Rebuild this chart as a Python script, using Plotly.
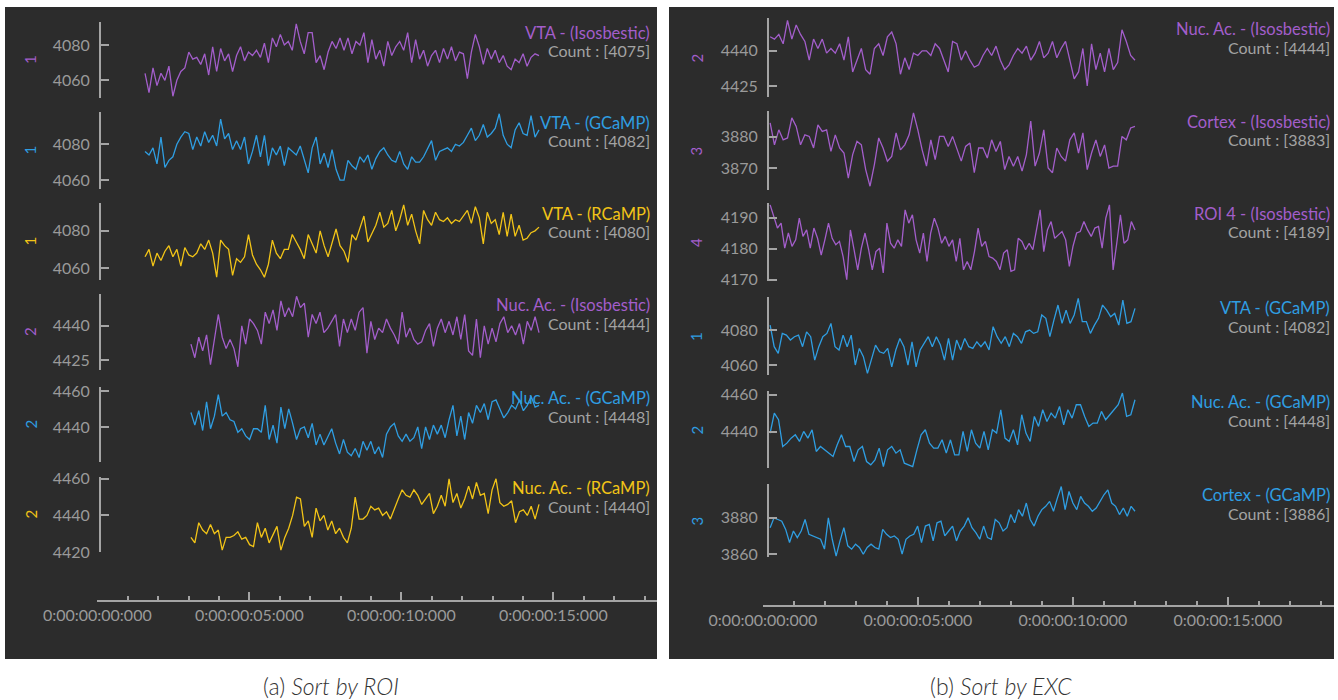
import numpy as np
import plotly.graph_objects as go

W, H = 1338, 700

# ---------------------------------------------------------------- data
# Fluorescence traces (raw counts), one list per channel, uniformly sampled
# between the first and last timestamp given in seconds.

# Sort by ROI
a_vta_iso = [4064, 4053, 4067, 4057, 4064, 4060, 4068, 4051, 4060, 4065,
             4067, 4076, 4072, 4073, 4069, 4075, 4063, 4079, 4065, 4078,
             4071, 4075, 4065, 4074, 4079, 4071, 4076, 4074, 4077, 4073,
             4081, 4070, 4084, 4079, 4086, 4080, 4082, 4077, 4092, 4082,
             4075, 4087, 4087, 4070, 4074, 4066, 4076, 4082, 4078, 4084,
             4077, 4084, 4075, 4082, 4080, 4087, 4070, 4083, 4072, 4077,
             4068, 4082, 4074, 4079, 4082, 4077, 4087, 4070, 4083, 4072,
             4077, 4068, 4074, 4077, 4070, 4078, 4072, 4079, 4071, 4076,
             4075, 4061, 4076, 4086, 4079, 4069, 4078, 4072, 4077, 4070,
             4074, 4068, 4066, 4072, 4070, 4075, 4068, 4073, 4075, 4074]
a_vta_gcamp = [4076, 4074, 4078, 4069, 4084, 4067, 4071, 4073, 4080, 4084,
               4087, 4086, 4077, 4084, 4079, 4087, 4081, 4085, 4079, 4094,
               4083, 4086, 4077, 4082, 4077, 4084, 4069, 4076, 4085, 4073,
               4085, 4068, 4078, 4074, 4079, 4068, 4078, 4076, 4074, 4079,
               4072, 4064, 4078, 4084, 4069, 4075, 4067, 4077, 4066, 4060,
               4060, 4071, 4068, 4066, 4073, 4070, 4074, 4066, 4072, 4076,
               4078, 4074, 4071, 4070, 4076, 4069, 4066, 4073, 4070, 4070,
               4073, 4078, 4082, 4071, 4076, 4077, 4078, 4076, 4080, 4079,
               4081, 4085, 4089, 4082, 4085, 4091, 4084, 4086, 4089, 4097,
               4085, 4080, 4078, 4088, 4092, 4086, 4085, 4096, 4084, 4088]
a_vta_rcamp = [4066, 4070, 4061, 4068, 4064, 4069, 4072, 4066, 4070, 4061,
               4071, 4067, 4066, 4068, 4073, 4070, 4075, 4068, 4055, 4075,
               4072, 4070, 4056, 4065, 4063, 4066, 4078, 4067, 4062, 4059,
               4055, 4062, 4075, 4068, 4065, 4070, 4070, 4078, 4074, 4070,
               4065, 4078, 4073, 4068, 4080, 4072, 4066, 4074, 4081, 4072,
               4069, 4063, 4078, 4075, 4081, 4088, 4074, 4079, 4083, 4090,
               4082, 4084, 4091, 4080, 4086, 4094, 4083, 4089, 4080, 4073,
               4091, 4086, 4083, 4090, 4086, 4085, 4087, 4084, 4086, 4085,
               4088, 4091, 4084, 4093, 4087, 4073, 4090, 4084, 4086, 4078,
               4090, 4077, 4089, 4077, 4083, 4075, 4076, 4079, 4080, 4082]
a_nuc_iso = [4432, 4426, 4435, 4429, 4436, 4423, 4434, 4445, 4435, 4430,
             4434, 4430, 4422, 4440, 4432, 4443, 4441, 4438, 4432, 4446,
             4441, 4447, 4438, 4451, 4444, 4448, 4444, 4453, 4448, 4450,
             4435, 4445, 4441, 4446, 4437, 4439, 4442, 4445, 4431, 4443,
             4437, 4443, 4438, 4446, 4448, 4428, 4442, 4434, 4439, 4437,
             4443, 4439, 4436, 4432, 4446, 4435, 4439, 4434, 4432, 4433,
             4438, 4441, 4431, 4439, 4443, 4437, 4442, 4436, 4444, 4434,
             4445, 4429, 4427, 4443, 4426, 4440, 4432, 4439, 4433, 4441,
             4444, 4437, 4440, 4436, 4441, 4432, 4442, 4438, 4444, 4437]
a_nuc_gcamp = [4448, 4441, 4449, 4438, 4454, 4439, 4446, 4458, 4446, 4448,
               4444, 4443, 4437, 4439, 4435, 4433, 4439, 4439, 4437, 4452,
               4433, 4441, 4431, 4451, 4439, 4450, 4442, 4433, 4439, 4440,
               4434, 4442, 4430, 4436, 4430, 4435, 4439, 4431, 4425, 4433,
               4426, 4424, 4428, 4423, 4432, 4427, 4432, 4425, 4429, 4423,
               4436, 4440, 4442, 4435, 4432, 4436, 4432, 4434, 4440, 4428,
               4440, 4433, 4441, 4436, 4441, 4434, 4444, 4452, 4435, 4446,
               4433, 4448, 4442, 4452, 4448, 4453, 4444, 4454, 4455, 4450,
               4445, 4448, 4452, 4450, 4455, 4449, 4452, 4457, 4451, 4452]
a_nuc_rcamp = [4428, 4425, 4436, 4432, 4430, 4435, 4430, 4432, 4421, 4428,
               4428, 4429, 4431, 4427, 4428, 4424, 4423, 4436, 4428, 4433,
               4425, 4430, 4434, 4421, 4428, 4433, 4440, 4450, 4449, 4434,
               4437, 4428, 4444, 4437, 4440, 4432, 4437, 4430, 4433, 4428,
               4425, 4433, 4450, 4438, 4438, 4440, 4445, 4443, 4444, 4440,
               4442, 4438, 4444, 4449, 4454, 4451, 4450, 4454, 4451, 4446,
               4449, 4452, 4441, 4445, 4451, 4445, 4460, 4447, 4452, 4444,
               4449, 4456, 4449, 4458, 4451, 4452, 4441, 4454, 4460, 4447,
               4445, 4446, 4448, 4436, 4442, 4443, 4440, 4445, 4438, 4446]

# Sort by EXC
b_nuc_iso = [4446, 4445, 4447, 4443, 4453, 4445, 4451, 4447, 4444, 4436,
             4445, 4441, 4445, 4439, 4441, 4439, 4443, 4436, 4446, 4431,
             4436, 4441, 4432, 4430, 4441, 4443, 4438, 4446, 4448, 4443,
             4430, 4437, 4432, 4439, 4438, 4440, 4440, 4438, 4443, 4441,
             4436, 4431, 4444, 4443, 4436, 4440, 4436, 4433, 4434, 4438,
             4441, 4438, 4442, 4436, 4432, 4434, 4438, 4441, 4439, 4442,
             4436, 4439, 4444, 4437, 4439, 4444, 4437, 4441, 4444, 4436,
             4428, 4431, 4441, 4425, 4443, 4432, 4439, 4431, 4441, 4432,
             4435, 4449, 4444, 4438, 4436]
b_ctx_iso = [3884.4, 3877.4, 3882.2, 3879.0, 3879.6, 3886.0, 3883.3, 3877.4,
             3880.6, 3880.1, 3876.4, 3883.8, 3881.7, 3882.2, 3875.3, 3880.6,
             3876.4, 3874.8, 3866.8, 3874.3, 3878.5, 3877.4, 3869.5, 3864.2,
             3871.1, 3879.6, 3876.4, 3872.2, 3873.7, 3881.2, 3875.8, 3877.4,
             3880.6, 3887.6, 3882.2, 3875.8, 3870.6, 3879.0, 3872.7, 3880.1,
             3880.1, 3876.9, 3880.1, 3875.8, 3872.2, 3876.9, 3878.0, 3868.5,
             3876.4, 3876.4, 3873.2, 3879.0, 3875.3, 3878.5, 3869.5, 3873.7,
             3870.6, 3873.7, 3869.0, 3874.3, 3885.0, 3870.6, 3874.8, 3882.2,
             3870.0, 3868.5, 3876.4, 3873.7, 3872.2, 3879.0, 3881.2, 3874.8,
             3881.2, 3869.5, 3874.8, 3879.0, 3873.7, 3877.4, 3870.0, 3870.6,
             3870.6, 3880.1, 3879.0, 3882.8, 3883.3]
b_roi4_iso = [4194.2, 4190.4, 4186.7, 4188.3, 4180.2, 4185.1, 4180.8, 4182.9,
              4189.9, 4184.0, 4186.1, 4180.2, 4186.7, 4183.4, 4178.0, 4182.9,
              4188.3, 4183.4, 4181.3, 4182.4, 4177.5, 4170.0, 4186.1, 4179.7,
              4173.2, 4180.2, 4185.1, 4179.7, 4173.2, 4179.1, 4180.2, 4172.2,
              4188.3, 4181.8, 4180.2, 4182.9, 4180.8, 4192.6, 4188.3, 4191.0,
              4182.9, 4178.6, 4185.1, 4175.9, 4185.1, 4189.9, 4186.7, 4181.8,
              4184.0, 4180.8, 4182.9, 4175.9, 4183.4, 4173.2, 4175.9, 4173.2,
              4179.1, 4186.7, 4180.8, 4182.4, 4177.5, 4177.0, 4175.9, 4173.2,
              4178.6, 4179.7, 4172.7, 4173.2, 4183.4, 4182.4, 4179.7, 4181.8,
              4179.7, 4186.1, 4192.6, 4179.1, 4186.1, 4188.8, 4183.4, 4184.5,
              4185.6, 4182.9, 4174.3, 4180.8, 4185.1, 4185.6, 4188.8, 4186.1,
              4184.0, 4186.7, 4187.2, 4180.2, 4189.9, 4194.2, 4173.2, 4181.8,
              4191.0, 4181.8, 4182.9, 4188.8, 4186.1]
b_vta_gcamp = [4082.8, 4070.5, 4066.7, 4078.1, 4077.1, 4074.3, 4076.2, 4077.1,
               4070.5, 4079.0, 4076.2, 4062.8, 4070.5, 4076.2, 4078.1, 4083.8,
               4070.5, 4068.6, 4077.1, 4070.5, 4077.1, 4060.0, 4069.5, 4064.8,
               4055.2, 4062.8, 4071.4, 4067.6, 4066.7, 4069.5, 4059.0, 4068.6,
               4075.2, 4070.5, 4060.0, 4073.3, 4059.0, 4068.6, 4072.4, 4076.2,
               4070.5, 4076.2, 4071.4, 4062.8, 4075.2, 4062.8, 4074.3, 4068.6,
               4075.2, 4070.5, 4069.5, 4073.3, 4070.5, 4073.3, 4068.6, 4081.9,
               4076.2, 4072.4, 4076.2, 4070.5, 4078.1, 4076.2, 4072.4, 4079.0,
               4080.0, 4078.1, 4079.0, 4088.6, 4086.7, 4076.2, 4085.7, 4094.3,
               4083.8, 4091.4, 4083.8, 4088.6, 4098.1, 4084.8, 4084.8, 4078.1,
               4082.8, 4086.7, 4094.3, 4091.4, 4087.6, 4089.5, 4082.8, 4097.1,
               4083.8, 4084.8, 4092.4]
b_nuc_gcamp = [4439.3, 4450.1, 4446.5, 4432.1, 4433.9, 4436.6, 4438.4, 4434.8,
               4440.2, 4436.6, 4441.1, 4429.4, 4432.1, 4430.3, 4428.5, 4426.7,
               4433.0, 4438.4, 4432.1, 4432.1, 4424.0, 4430.3, 4432.1, 4424.0,
               4422.2, 4424.9, 4431.2, 4421.3, 4430.3, 4432.1, 4428.5, 4430.3,
               4423.1, 4422.2, 4421.3, 4430.3, 4438.4, 4441.1, 4433.9, 4431.2,
               4431.2, 4435.7, 4428.5, 4435.7, 4427.6, 4427.6, 4440.2, 4429.4,
               4441.1, 4433.9, 4431.2, 4440.2, 4430.3, 4441.1, 4439.3, 4451.9,
               4436.6, 4434.8, 4441.1, 4433.0, 4449.2, 4439.3, 4434.8, 4448.3,
               4442.9, 4451.9, 4445.6, 4450.1, 4447.4, 4453.7, 4443.8, 4451.9,
               4447.4, 4454.6, 4454.6, 4448.3, 4442.9, 4444.7, 4444.7, 4451.0,
               4446.5, 4449.2, 4451.9, 4454.6, 4460.9, 4448.3, 4449.2, 4457.3]
b_ctx_gcamp = [3874.5, 3879.9, 3879.0, 3878.1, 3873.6, 3866.4, 3872.7, 3869.1,
               3872.7, 3879.0, 3870.9, 3870.0, 3869.1, 3868.2, 3862.8, 3879.9,
               3868.2, 3859.0, 3867.3, 3874.5, 3864.6, 3862.8, 3865.5, 3863.7,
               3860.0, 3863.7, 3865.5, 3863.7, 3862.8, 3873.6, 3870.9, 3869.1,
               3870.0, 3868.2, 3860.1, 3868.2, 3870.0, 3870.9, 3875.4, 3866.4,
               3875.4, 3876.3, 3867.3, 3877.2, 3878.1, 3870.0, 3872.7, 3875.4,
               3867.3, 3872.7, 3875.4, 3879.9, 3874.5, 3871.8, 3868.2, 3875.4,
               3869.1, 3868.2, 3879.0, 3877.2, 3872.7, 3874.5, 3881.7, 3877.2,
               3884.4, 3880.8, 3888.0, 3879.0, 3875.4, 3880.8, 3884.4, 3886.2,
               3888.9, 3883.5, 3890.7, 3897.0, 3884.4, 3894.3, 3888.0, 3884.4,
               3891.6, 3888.0, 3886.2, 3883.5, 3885.3, 3888.9, 3892.5, 3895.2,
               3888.0, 3886.2, 3881.7, 3885.3, 3880.8, 3886.2, 3883.5]

# channel names, ROI ids and sample counts
a_names = ["VTA - (Isosbestic)", "VTA - (GCaMP)", "VTA - (RCaMP)",
           "Nuc. Ac. - (Isosbestic)", "Nuc. Ac. - (GCaMP)", "Nuc. Ac. - (RCaMP)"]
a_roi = ["1", "1", "1", "2", "2", "2"]
a_counts = [4075, 4082, 4080, 4444, 4448, 4440]
a_t0 = [1.57, 1.57, 1.57, 3.08, 3.08, 3.08]
a_t1 = [14.53, 14.53, 14.53, 14.53, 14.53, 14.53]
a_ticks = [[4060, 4080], [4060, 4080], [4060, 4080],
           [4425, 4440], [4440, 4460], [4420, 4440, 4460]]

b_names = ["Nuc. Ac. - (Isosbestic)", "Cortex - (Isosbestic)", "ROI 4 - (Isosbestic)",
           "VTA - (GCaMP)", "Nuc. Ac. - (GCaMP)", "Cortex - (GCaMP)"]
b_roi = ["2", "3", "4", "1", "2", "3"]
b_counts = [4444, 3883, 4189, 4082, 4448, 3886]
b_t0 = [0.23] * 6
b_t1 = [12.0] * 6
b_ticks = [[4425, 4440], [3870, 3880], [4170, 4180, 4190],
           [4060, 4080], [4440, 4460], [3860, 3880]]

time_ticks = [0, 5, 10, 15]
time_labels = ["0:00:00:00:000", "0:00:00:05:000", "0:00:00:10:000", "0:00:00:15:000"]

# ---------------------------------------------------------------- styling
PURPLE = "#a35ecb"
BLUE = "#2f9ee2"
YELLOW = "#f2c417"
a_colors = [PURPLE, BLUE, YELLOW, PURPLE, BLUE, YELLOW]
b_colors = [PURPLE, PURPLE, PURPLE, BLUE, BLUE, BLUE]

BG = "#2c2c2c"
AXIS = "#a4a4a4"
TICKTXT = "#9a9a9a"
COUNTTXT = "#a3a3a3"
FONT = "Lato"


def fx(px):
    return px / W


def fy(py):
    return 1 - py / H


panels = [
    dict(vals=[a_vta_iso, a_vta_gcamp, a_vta_rcamp, a_nuc_iso, a_nuc_gcamp, a_nuc_rcamp],
         names=a_names, roi=a_roi, counts=a_counts, t0=a_t0, t1=a_t1, ticks=a_ticks,
         colors=a_colors,
         rows=[(22, 98), (112, 189), (203, 280), (294, 370), (387, 462), (477, 552)],
         ranges=[[4050, 4093], [4055, 4098], [4053.5, 4095],
                 [4420.6, 4454], [4420.5, 4462.2], [4420, 4461]],
         box=(5, 7, 657, 659), yline=100, rowlab=30, lab_right=652,
         xdom=(97.3, 657), xline=601, pxs=30.4),
    dict(vals=[b_nuc_iso, b_ctx_iso, b_roi4_iso, b_vta_gcamp, b_nuc_gcamp, b_ctx_gcamp],
         names=b_names, roi=b_roi, counts=b_counts, t0=b_t0, t1=b_t1, ticks=b_ticks,
         colors=b_colors,
         rows=[(18, 97), (111, 190), (203, 281), (297, 375), (391, 468), (484, 557)],
         ranges=[[4420.3, 4454], [3863, 3888.2], [4169.6, 4194.8],
                 [4054.3, 4098.9], [4420.5, 4462], [3858.5, 3898.4]],
         box=(669, 7, 1334, 659), yline=768, rowlab=696, lab_right=1332,
         xdom=(763, 1334), xline=606, pxs=31.0),
]

fig = go.Figure()
layout = dict(
    width=W, height=H,
    margin=dict(l=0, r=0, t=0, b=0, pad=0, autoexpand=False),
    paper_bgcolor="white", plot_bgcolor="rgba(0,0,0,0)",
    showlegend=False, shapes=[], annotations=[],
    font=dict(family=FONT),
)

yi = 0
for pi, p in enumerate(panels):
    xname = "x" if pi == 0 else "x2"
    xkey = "xaxis" if pi == 0 else "xaxis2"
    x0, x1 = p["xdom"]
    layout[xkey] = dict(
        domain=[fx(x0), fx(x1)], range=[0, (x1 - x0) / p["pxs"]],
        anchor="free", position=fy(p["xline"]),
        showline=True, linecolor=AXIS, linewidth=2,
        ticks="inside", ticklen=8, tickwidth=2, tickcolor=AXIS,
        tickmode="array", tickvals=time_ticks, ticktext=time_labels,
        tickfont=dict(family=FONT, size=16, color=TICKTXT),
        ticklabelstandoff=0,
        minor=dict(tickmode="linear", tick0=0, dtick=1, ticks="inside",
                   ticklen=4, tickwidth=2, tickcolor=AXIS),
        showgrid=False, zeroline=False, fixedrange=True,
    )
    bx0, by0, bx1, by1 = p["box"]
    layout["shapes"].append(dict(
        type="rect", xref="paper", yref="paper",
        x0=fx(bx0), x1=fx(bx1), y0=fy(by1), y1=fy(by0),
        fillcolor=BG, line=dict(width=0), layer="below"))

    for r in range(6):
        yi += 1
        yname = "y" if yi == 1 else f"y{yi}"
        ykey = "yaxis" if yi == 1 else f"yaxis{yi}"
        top, bot = p["rows"][r]
        vals = p["vals"][r]
        t = np.linspace(p["t0"][r], p["t1"][r], len(vals))
        fig.add_trace(go.Scatter(
            x=t, y=vals, mode="lines", xaxis=xname, yaxis=yname,
            line=dict(color=p["colors"][r], width=1.3),
            hoverinfo="skip"))
        layout[ykey] = dict(
            domain=[fy(bot), fy(top)], range=p["ranges"][r],
            anchor="free", position=fx(p["yline"]),
            showline=True, linecolor=AXIS, linewidth=2,
            ticks="inside", ticklen=8, tickwidth=2, tickcolor=AXIS,
            tickmode="array", tickvals=p["ticks"][r],
            tickfont=dict(family=FONT, size=16, color=TICKTXT),
            ticklabelstandoff=6,
            showgrid=False, zeroline=False, fixedrange=True,
        )
        mid = (top + bot) / 2
        layout["annotations"].append(dict(
            xref="paper", yref="paper", x=fx(p["rowlab"]), y=fy(mid),
            xanchor="center", yanchor="middle",
            text=p["roi"][r], textangle=-90, showarrow=False,
            font=dict(family=FONT, size=15, color=p["colors"][r])))
        layout["annotations"].append(dict(
            xref="paper", yref="paper", x=fx(p["lab_right"]), y=fy(top + 11),
            xanchor="right", yanchor="middle", text=p["names"][r], showarrow=False,
            font=dict(family=FONT, size=16.5, color=p["colors"][r])))
        layout["annotations"].append(dict(
            xref="paper", yref="paper", x=fx(p["lab_right"]), y=fy(top + 29),
            xanchor="right", yanchor="middle", text=f"Count : [{p['counts'][r]}]",
            showarrow=False, font=dict(family=FONT, size=16, color=COUNTTXT)))

# figure captions
for cx, tag, label in [(331, "(a)", "Sort by ROI"), (1001, "(b)", "Sort by EXC")]:
    layout["annotations"].append(dict(
        xref="paper", yref="paper", x=fx(cx), y=fy(686),
        xanchor="center", yanchor="middle",
        text=f"{tag} <i>{label}</i>", showarrow=False,
        font=dict(family=FONT, size=23, color="#333333", weight=300)))

fig.update_layout(**layout)
fig.write_html("out.html")
